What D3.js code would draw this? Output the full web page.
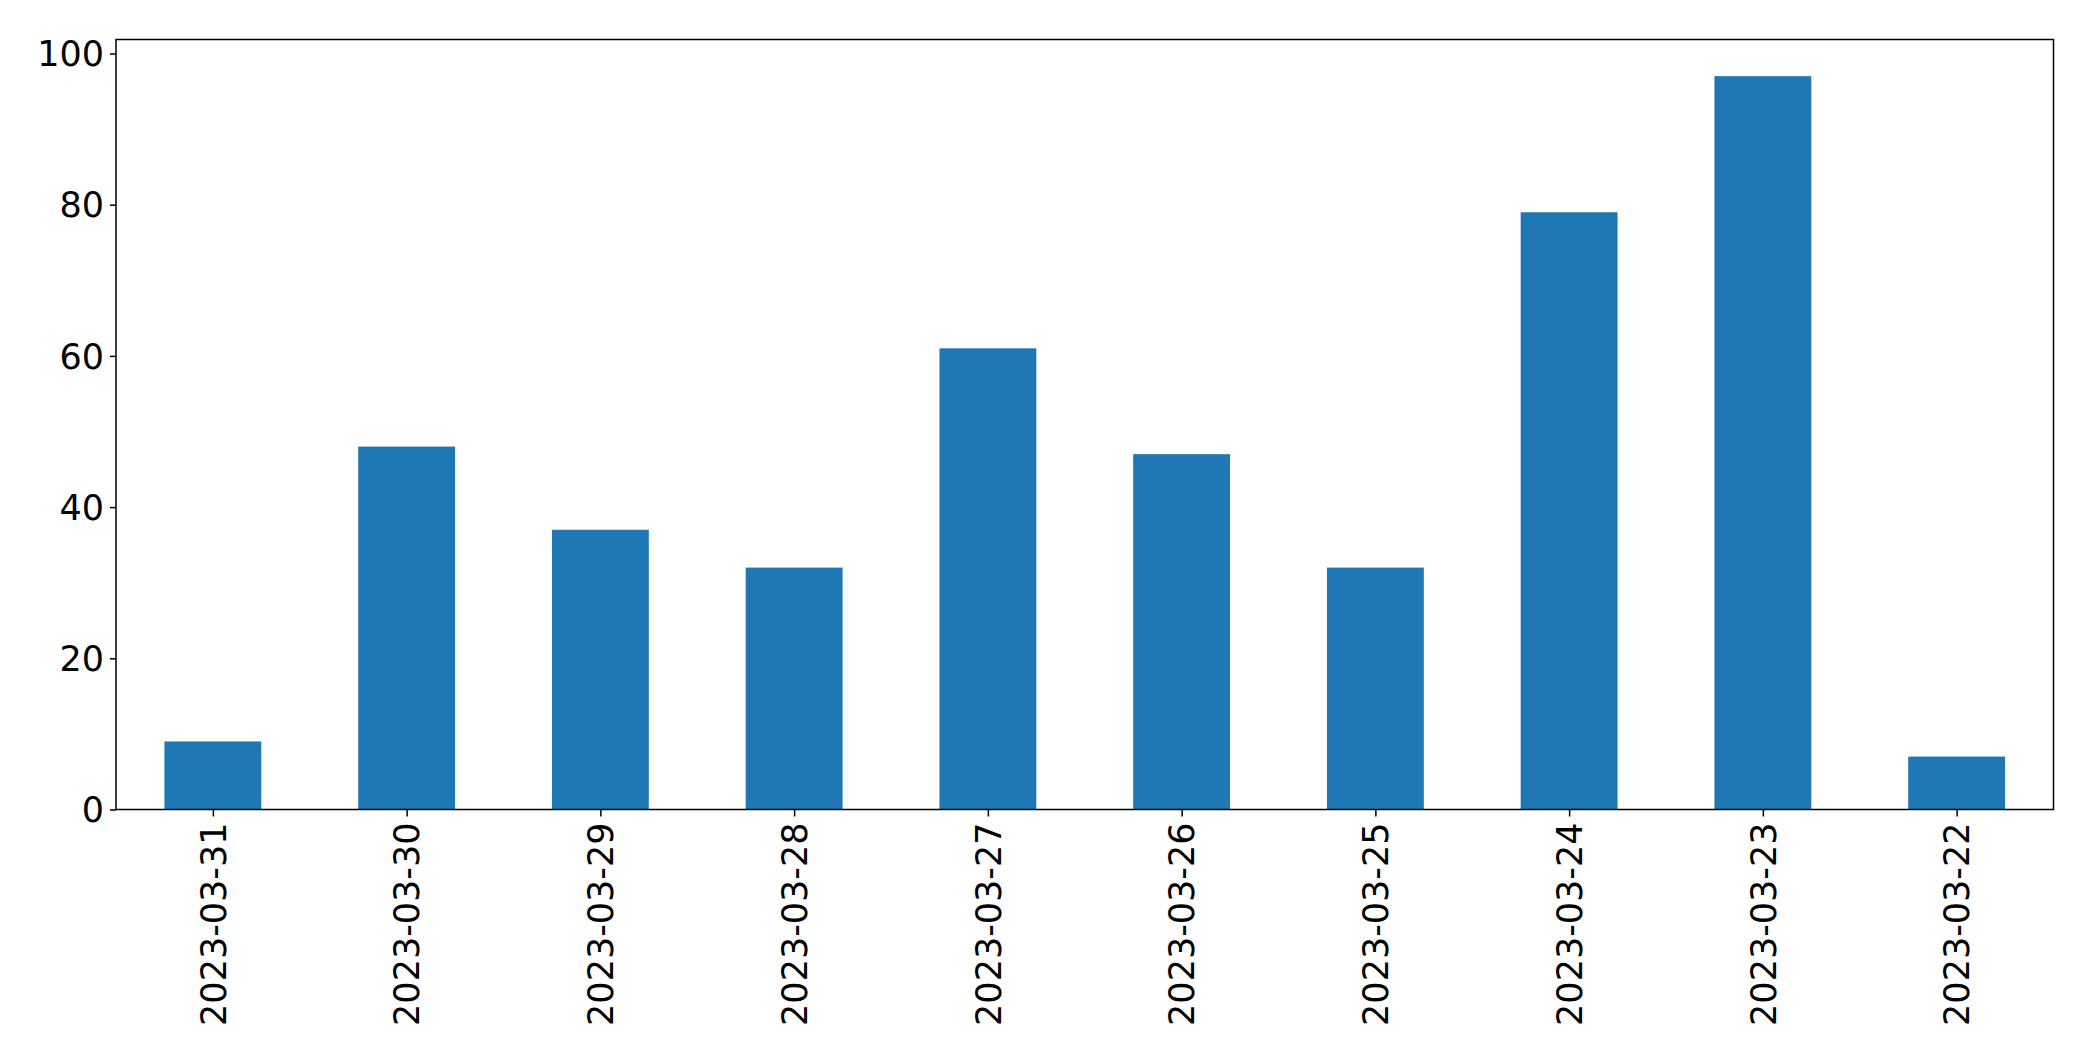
<!DOCTYPE html>
<html>
<head>
<meta charset="utf-8">
<script src="https://cdn.jsdelivr.net/npm/d3@7"></script>
<style>
    body { margin: 0; background: #fff; }
    text { font-family: "DejaVu Sans", sans-serif; fill: #000; }
</style>
</head>
<body>
<script>
const dates = ["2023-03-31", "2023-03-30", "2023-03-29", "2023-03-28", "2023-03-27",
    "2023-03-26", "2023-03-25", "2023-03-24", "2023-03-23", "2023-03-22"];
const counts = [9, 48, 37, 32, 61, 47, 32, 79, 97, 7];
const yTicks = [0, 20, 40, 60, 80, 100];

function main() {
    const canvasWidth = 2093;
    const canvasHeight = 1061;
    const left = 116, right = 2053.5, top = 39.5, bottom = 809.5;

    const svg = d3.select("body").append("svg")
        .attr("width", canvasWidth)
        .attr("height", canvasHeight);

    // pandas style: categories at integer positions, bars half a step wide
    const x = d3.scaleLinear().domain([-0.5, dates.length - 0.5]).range([left, right]);
    const y = d3.scaleLinear().domain([0, d3.max(counts) * 1.05]).range([bottom, top]);

    svg.selectAll(".bar")
        .data(counts)
        .enter()
        .append("rect")
        .attr("class", "bar")
        .attr("x", (d, i) => x(i - 0.25))
        .attr("y", d => y(d))
        .attr("width", (d, i) => x(i + 0.25) - x(i - 0.25))
        .attr("height", d => y(0) - y(d))
        .style("fill", "#1f77b4");

    // y axis
    const yAxis = svg.append("g")
        .attr("transform", "translate(" + left + ",0)")
        .call(d3.axisLeft(y).tickValues(yTicks).tickSize(6).tickPadding(6).tickFormat(d => d));
    yAxis.select(".domain").remove();
    yAxis.selectAll("line").attr("stroke", "#000").attr("stroke-width", 1.5);
    yAxis.selectAll("text")
        .style("font-size", "35px")
        .attr("dy", "0.35em");

    // x axis
    const xAxis = svg.append("g")
        .attr("transform", "translate(0," + bottom + ")")
        .call(d3.axisBottom(x).tickValues(d3.range(dates.length)).tickSize(7)
            .tickFormat(i => dates[i]));
    xAxis.select(".domain").remove();
    xAxis.selectAll("line").attr("stroke", "#000").attr("stroke-width", 1.5);
    xAxis.selectAll("text")
        .style("font-size", "35px")
        .attr("text-anchor", "end")
        .attr("x", 0)
        .attr("y", 0)
        .attr("dy", "0.35em")
        .attr("transform", "translate(0,13) rotate(-90)");

    // frame
    svg.append("rect")
        .attr("x", left)
        .attr("y", top)
        .attr("width", right - left)
        .attr("height", bottom - top)
        .style("fill", "none")
        .style("stroke", "#000")
        .style("stroke-width", 1.5);
}
main();
</script>
</body>
</html>
